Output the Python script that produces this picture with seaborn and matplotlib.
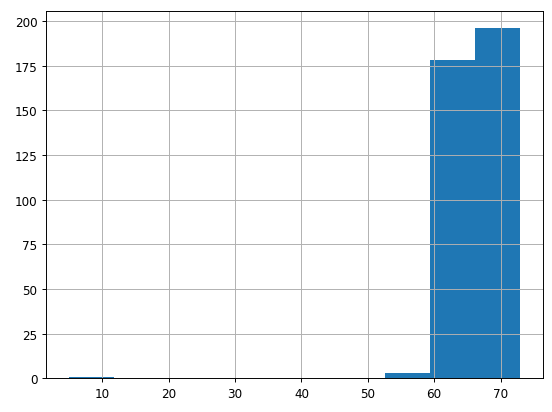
import numpy as np
import seaborn as sns
import matplotlib.pyplot as plt

# histogram: 10 equal bins between 4.9 and 73
bin_edges = [4.9, 11.71, 18.52, 25.33, 32.14, 38.95, 45.76, 52.57, 59.38, 66.19, 73.0]
bin_counts = [1, 0, 0, 0, 0, 0, 0, 3, 178, 196]

bin_centers = [(a + b) / 2 for a, b in zip(bin_edges[:-1], bin_edges[1:])]

dpi = 86.25
fig = plt.figure(figsize=(552 / dpi, 413 / dpi), dpi=dpi)
ax = fig.add_axes([46 / 552, 33.7 / 413, 497 / 552, 367.6 / 413])

sns.histplot(x=bin_centers, weights=bin_counts, bins=bin_edges, ax=ax,
             color="#1f77b4", alpha=1, linewidth=0, edgecolor="none")

ax.grid(True, color="#b0b0b0", linewidth=0.8)
ax.set_xlabel("")
ax.set_ylabel("")
ax.set_yticks([0, 25, 50, 75, 100, 125, 150, 175, 200])

fig.savefig("out.png", dpi=dpi)
